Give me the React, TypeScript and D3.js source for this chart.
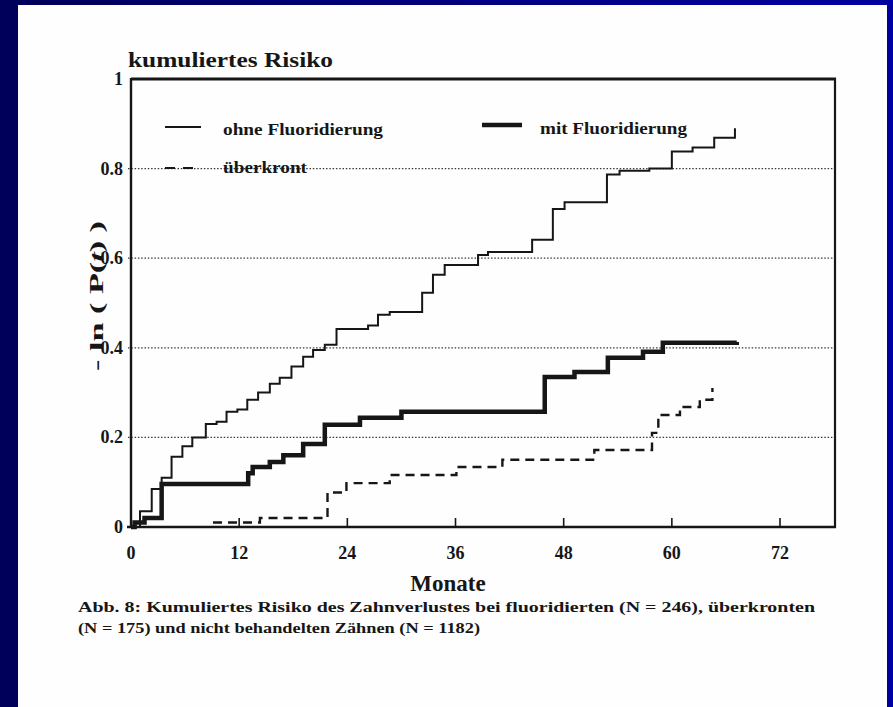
import * as d3 from "d3";

// Monate / kumuliertes Risiko (-ln P(t))
const ohneMonths = [0, 1.0, 2.3, 3.4, 4.5, 5.7, 6.8, 8.3, 9.5, 10.6, 11.8, 12.9, 14.1, 15.4, 16.5, 17.8, 19.1, 20.2, 21.5, 22.8, 26.3, 27.4, 28.7, 32.3, 33.5, 34.8, 38.5, 39.6, 44.5, 46.8, 48.1, 52.8, 54.2, 57.5, 60.0, 62.3, 64.7, 67.0];
const ohneRisk = [0, 0.035, 0.085, 0.11, 0.157, 0.18, 0.2, 0.23, 0.235, 0.257, 0.262, 0.284, 0.3, 0.32, 0.333, 0.358, 0.38, 0.395, 0.407, 0.442, 0.45, 0.474, 0.48, 0.523, 0.563, 0.585, 0.607, 0.614, 0.641, 0.71, 0.725, 0.787, 0.795, 0.8, 0.838, 0.847, 0.869, 0.89];

const mitMonths = [0, 0.4, 1.5, 3.4, 13.0, 13.5, 15.4, 16.9, 19.1, 21.5, 25.4, 30.0, 45.9, 49.2, 52.9, 56.8, 59.0, 67.2];
const mitRisk = [0, 0.01, 0.02, 0.096, 0.12, 0.134, 0.145, 0.16, 0.185, 0.228, 0.244, 0.257, 0.335, 0.346, 0.378, 0.391, 0.411, 0.413];

const kronMonths = [9.1, 14.3, 21.8, 23.9, 28.7, 36.1, 41.2, 51.4, 57.8, 58.5, 60.9, 63.1, 64.5];
const kronRisk = [0.01, 0.02, 0.077, 0.098, 0.116, 0.134, 0.15, 0.172, 0.21, 0.25, 0.268, 0.284, 0.31];

const xTicks = [0, 12, 24, 36, 48, 60, 72];
const yTicks = [0, 0.2, 0.4, 0.6, 0.8, 1];
const gridValues = [0.2, 0.4, 0.6, 0.8];

const width = 893;
const height = 707;
const ink = "#161616";
const font = "'Liberation Serif', 'Times New Roman', serif";

const zip = (xs: number[], ys: number[]) => xs.map((m, i) => [m, ys[i]] as [number, number]);

export default function App() {
  const left = 131;
  const right = 835;
  const top = 79;
  const bottom = 527;

  const x = d3.scaleLinear([0, 78.1], [left, right]);
  const y = d3.scaleLinear([0, 1], [bottom, top]);

  const step = d3
    .line<[number, number]>()
    .x((d) => x(d[0]))
    .y((d) => y(d[1]))
    .curve(d3.curveStepAfter);

  return (
    <svg width={width} height={height} style={{ position: "absolute", left: 0, top: 0 }} fontFamily={font} fontWeight="bold">
      <defs>
        <linearGradient id="bg" x1="0" x2="1" y1="0" y2="0">
          <stop offset="0" stopColor="#00005a" />
          <stop offset="1" stopColor="#0000a2" />
        </linearGradient>
      </defs>
      <rect width={width} height={height} fill="url(#bg)" />
      <rect x={18} y={5} width={869} height={height} fill="#fefefe" />

      {/* gridlines */}
      <g stroke="#3a3a3a" strokeWidth={1.2} strokeDasharray="1.5,1.8">
        {gridValues.map((v) => (
          <line key={v} x1={left - 3} x2={right} y1={y(v)} y2={y(v)} />
        ))}
      </g>

      {/* frame */}
      <g stroke={ink} fill="none">
        <line x1={left} x2={left} y1={top - 1} y2={bottom + 1} strokeWidth={2.4} />
        <line x1={left - 4} x2={right + 1} y1={bottom} y2={bottom} strokeWidth={2.6} />
        <line x1={left} x2={right + 1} y1={top} y2={top} strokeWidth={2.8} />
        <line x1={right} x2={right} y1={top - 1} y2={bottom + 1} strokeWidth={2.2} />
        {xTicks.slice(1).map((t) => (
          <line key={t} x1={x(t)} x2={x(t)} y1={bottom} y2={bottom - 9} strokeWidth={1.6} />
        ))}
      </g>

      {/* tick labels */}
      <g fill={ink} fontSize={18}>
        {yTicks.map((t) => (
          <text key={t} x={left - 8} y={y(t) + 6} textAnchor="end">
            {t === 0 || t === 1 ? String(t) : d3.format(".1f")(t)}
          </text>
        ))}
        {xTicks.map((t) => (
          <text key={t} x={x(t)} y={559} textAnchor="middle">
            {t}
          </text>
        ))}
      </g>

      {/* curves */}
      <path d={step(zip(ohneMonths, ohneRisk)) ?? ""} fill="none" stroke={ink} strokeWidth={2} />
      <path d={step(zip(mitMonths, mitRisk)) ?? ""} fill="none" stroke={ink} strokeWidth={4.5} />
      <path d={step(zip(kronMonths, kronRisk)) ?? ""} fill="none" stroke={ink} strokeWidth={2.4} strokeDasharray="9,6" />

      {/* legend */}
      <g stroke={ink} fill="none">
        <line x1={165} x2={201} y1={127} y2={127} strokeWidth={2} />
        <line x1={482} x2={522} y1={125} y2={125} strokeWidth={4.5} />
        <line x1={165} x2={198} y1={168} y2={168} strokeWidth={2} strokeDasharray="10,8" />
      </g>
      <g fill={ink} fontSize={16}>
        <text x={223} y={135} textLength={160} lengthAdjust="spacingAndGlyphs">ohne Fluoridierung</text>
        <text x={540} y={134} textLength={147} lengthAdjust="spacingAndGlyphs">mit Fluoridierung</text>
        <text x={223} y={173} textLength={84} lengthAdjust="spacingAndGlyphs">überkront</text>
      </g>

      {/* titles */}
      <text x={128} y={67} fontSize={21} fill={ink} textLength={205} lengthAdjust="spacingAndGlyphs">
        kumuliertes Risiko
      </text>
      <text transform="translate(103,296) rotate(-90)" textAnchor="middle" fontSize={18} fill={ink} textLength={150} lengthAdjust="spacingAndGlyphs">
        - ln ( P(<tspan fontStyle="italic">t</tspan>) )
      </text>
      <text x={448} y={591} textAnchor="middle" fontSize={23} fill={ink}>
        Monate
      </text>

      {/* caption */}
      <g fill={ink} fontSize={15.5}>
        <text x={78} y={612} textLength={737} lengthAdjust="spacingAndGlyphs">
          Abb. 8:  Kumuliertes Risiko des Zahnverlustes bei fluoridierten (N = 246), überkronten
        </text>
        <text x={78} y={633} textLength={402} lengthAdjust="spacingAndGlyphs">
          (N = 175) und nicht behandelten Zähnen (N = 1182)
        </text>
      </g>
    </svg>
  );
}
